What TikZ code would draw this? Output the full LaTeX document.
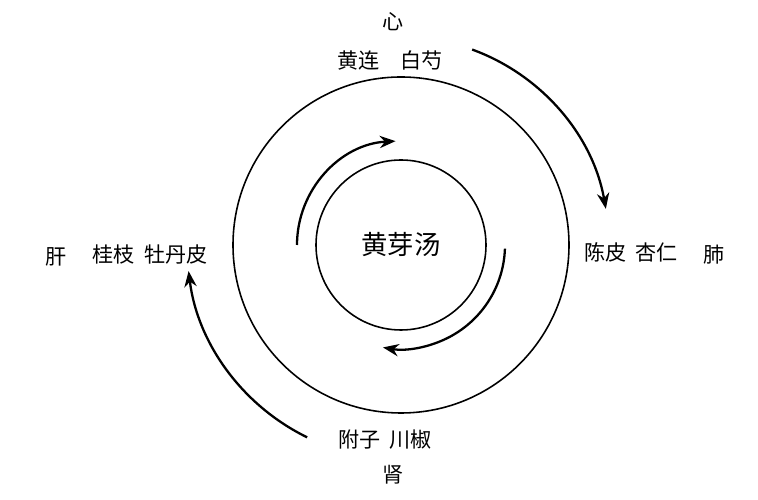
\documentclass[tikz,border=0pt]{standalone}
\usepackage{fontspec}
\newfontfamily\cjk{Noto Sans CJK SC}
\usetikzlibrary{arrows.meta}
\begin{document}
\begin{tikzpicture}[x=0.02cm,y=0.02cm,
  lbl/.style={font=\cjk\fontsize{12}{14}\selectfont,inner sep=1pt},
  arr/.style={line width=1.3pt,-{Stealth[length=9pt,width=7pt]}},
  ring/.style={line width=0.9pt}]
\useasboundingbox (0,0) rectangle (758,500);
\coordinate (c) at (401,255);
\node[ring,draw,circle,minimum size=336*0.02cm,inner sep=0] (outer) at (c) {};
\node[ring,draw,circle,minimum size=170*0.02cm,inner sep=0,font=\cjk\fontsize{15}{17}\selectfont] (inner) at (c) {黄芽汤};
\draw[arr] ([shift={(180:104)}]c) arc[start angle=180,end angle=93,radius=104];
\draw[arr] ([shift={(-2:104)}]c) arc[start angle=-2,end angle=-100,radius=104];
\draw[arr] ([shift={(70:208)}]c) arc[start angle=70,end angle=10,radius=208];
\draw[arr] ([shift={(244:214)}]c) arc[start angle=244,end angle=187,radius=214];
\node[lbl] (xin) at (393,478) {心};
\node[lbl] (xinm) at (390,440) {黄连\quad 白芍};
\node[lbl] (feim) at (631,248) {陈皮\ \ 杏仁};
\node[lbl] (fei) at (714,245) {肺};
\node[lbl] (gan) at (56,243) {肝};
\node[lbl] (ganm) at (150,245) {桂枝\ \ 牡丹皮};
\node[lbl] (shenm) at (385,60) {附子\ \ 川椒};
\node[lbl] (shen) at (393,25) {肾};
\end{tikzpicture}
\end{document}
